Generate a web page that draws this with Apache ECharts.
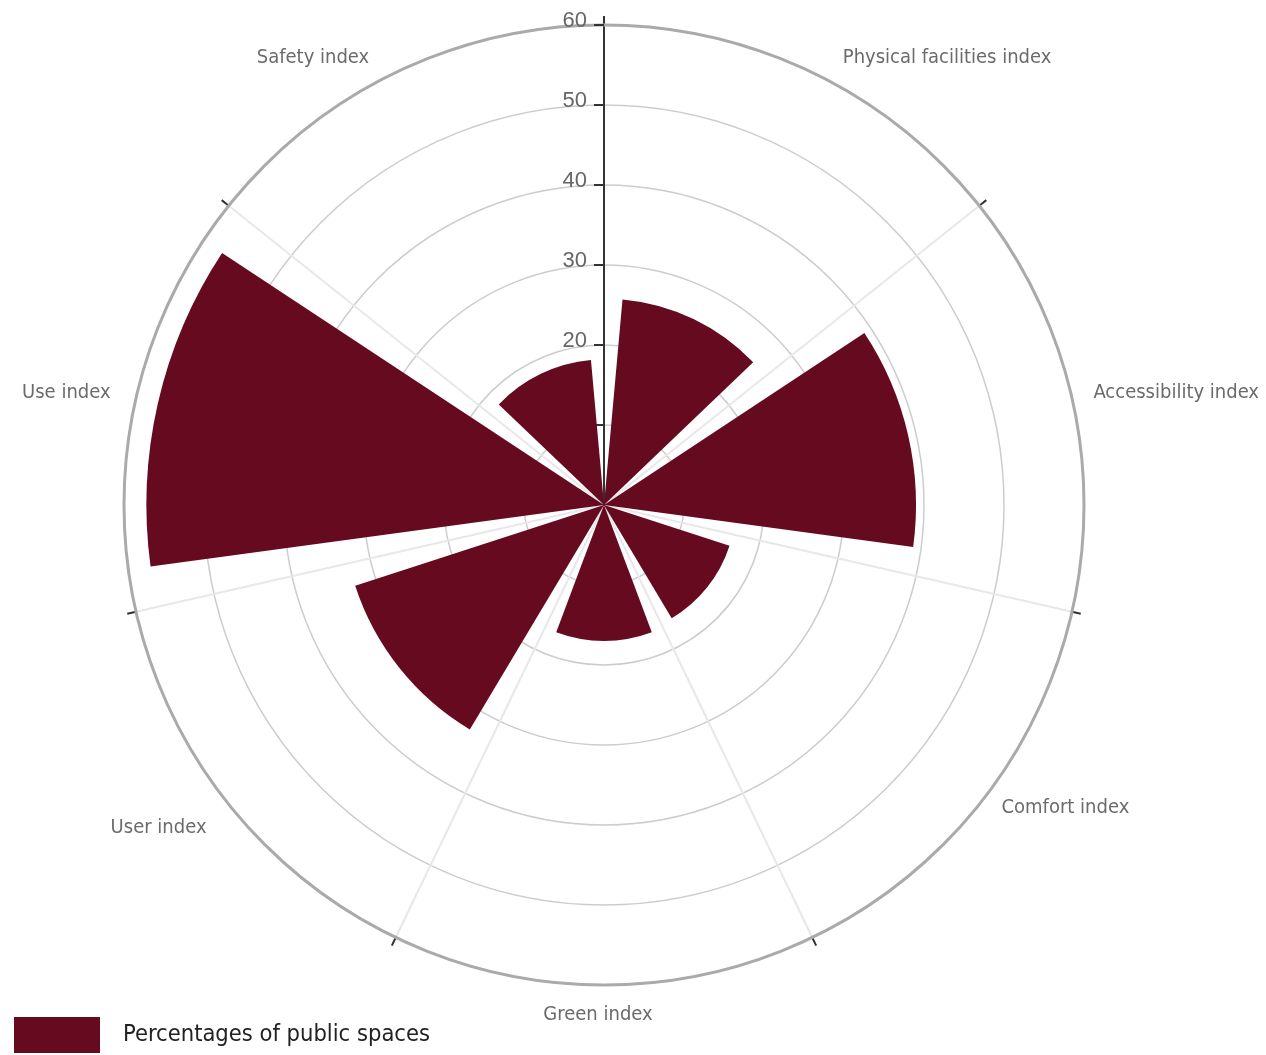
<!DOCTYPE html>
<html>
<head>
<meta charset="utf-8">
<script src="https://cdn.jsdelivr.net/npm/echarts@6/dist/echarts.min.js"></script>
<style>html,body{margin:0;padding:0;background:#fff}#c{width:1266px;height:1055px}</style>
</head>
<body>
<div id="c"></div>
<script>
const categories = ['Physical facilities index', 'Accessibility index', 'Comfort index', 'Green index', 'User index', 'Use index', 'Safety index'];
const values = [25.8, 39, 16.5, 17, 32.7, 57.2, 18.2];
const seriesName = 'Percentages of public spaces';
const radiusMax = 60;
const radiusStep = 10;

// label nudges (padding) per category, to mimic original label placement
const labelPadding = [
  [0, 0, -15, 21],
  [0, 0, 0, 0],
  [-20, 0, 0, 5],
  [-2, 12, 0, 0],
  [0, 5, 0, 0],
  [-2, 4, 0, 0],
  [0, 17, -15, 0]
];

const angleData = categories.map((c, i) => ({ value: c, textStyle: { padding: labelPadding[i] } }));

const chart = echarts.init(document.getElementById('c'), null, {renderer: 'canvas'});
chart.setOption({
  animation: false,
  backgroundColor: '#fff',
  polar: { center: [604, 505], radius: 480 },
  angleAxis: {
    type: 'category',
    data: angleData,
    startAngle: 90,
    clockwise: true,
    boundaryGap: true,
    axisLine: { show: true, lineStyle: { color: '#aaaaaa', width: 3 } },
    axisTick: { show: true, length: 9, lineStyle: { color: '#333', width: 2 } },
    splitLine: { show: true, lineStyle: { color: '#e8e8e8', width: 2 } },
    axisLabel: { margin: 22, color: '#6b6b6b', fontSize: 20, fontFamily: '"DejaVu Sans Condensed", "Liberation Sans", sans-serif' },
    z: 0
  },
  radiusAxis: {
    type: 'value',
    min: 0,
    max: radiusMax,
    interval: radiusStep,
    axisLine: { show: true, lineStyle: { color: '#333', width: 2 } },
    axisTick: { show: true, length: 10, lineStyle: { color: '#333', width: 2 } },
    splitLine: { show: true, lineStyle: { color: '#cccccc', width: 1.5 } },
    axisLabel: { margin: 17, color: '#666', fontSize: 22, lineHeight: 9, showMinLabel: false, fontFamily: '"Liberation Sans", Arial, sans-serif', verticalAlign: 'bottom' },
    z: 0
  },
  legend: {
    show: true,
    left: 9,
    top: 1012,
    itemWidth: 86,
    itemHeight: 36,
    icon: 'rect',
    textStyle: { color: '#222', fontSize: 23.5, fontFamily: '"DejaVu Sans Condensed", "Liberation Sans", sans-serif', padding: [8, 0, 0, 18] },
    data: [seriesName]
  },
  series: [{
    name: seriesName,
    type: 'bar',
    coordinateSystem: 'polar',
    data: values,
    barCategoryGap: '20%',
    itemStyle: { color: '#650a1f' },
    z: 2
  }]
});
</script>
</body>
</html>
